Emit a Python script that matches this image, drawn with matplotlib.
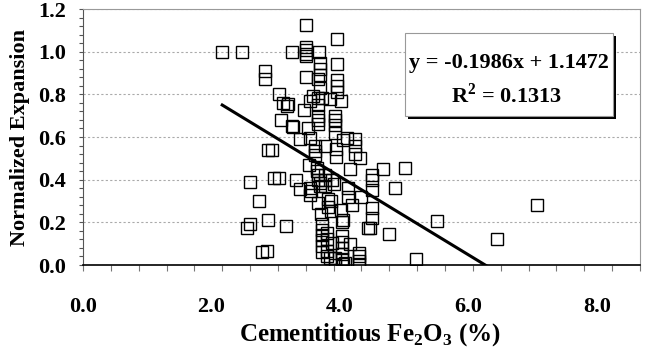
import matplotlib
matplotlib.use("Agg")
import matplotlib.pyplot as plt
from matplotlib.patches import Rectangle
from matplotlib.ticker import MultipleLocator

plt.rcParams['font.family'] = 'Liberation Serif'
plt.rcParams['font.weight'] = 'bold'
plt.rcParams['axes.labelweight'] = 'bold'
plt.rcParams['mathtext.fontset'] = 'custom'
plt.rcParams['mathtext.rm'] = 'Liberation Serif:bold'
plt.rcParams['mathtext.bf'] = 'Liberation Serif:bold'

# data (cementitious Fe2O3 %, normalized expansion)
fe2o3 = [2.00, 2.28, 2.62, 2.62, 2.82, 2.88, 2.93, 2.95, 2.84, 3.00, 3.02,
         2.66, 2.72, 2.40, 2.74, 2.82, 2.53, 2.35, 2.40, 2.66, 2.92, 2.57, 2.65,
         3.00, 3.20, 3.20, 3.20, 3.20, 3.20, 3.39, 3.65, 3.20, 3.38,
         3.40, 3.40, 3.40, 3.40, 3.65, 3.65, 3.65, 3.65,
         3.31, 3.26, 3.37, 3.44, 3.55, 3.71, 3.17, 3.38,
         3.38, 3.38, 3.38, 3.62, 3.62, 3.62, 3.62, 3.23, 3.12, 3.26, 3.79,
         3.33, 3.33, 3.33, 3.47, 3.64, 3.64, 3.74, 3.91, 3.91, 3.91, 3.98,
         3.25, 3.36, 3.36, 3.38, 3.38, 3.40, 3.40, 3.48, 3.48, 3.48, 3.57, 3.60,
         3.84, 4.31, 4.63, 4.15, 4.15, 3.06, 3.11, 3.26, 3.28, 3.26,
         3.81, 3.81, 3.86, 4.48, 4.15, 4.00, 3.37, 3.52, 3.52, 3.56, 3.56,
         3.71, 3.42, 4.15, 4.15, 4.10, 4.12, 3.73, 3.72,
         5.08, 4.40, 4.79, 5.95, 6.52,
         3.43, 3.43, 3.43, 3.43, 3.43, 3.43, 3.50, 3.50, 3.50, 3.50,
         3.57, 3.55, 3.62, 3.62, 3.72, 3.72, 3.72, 3.72, 3.72, 3.73,
         3.84, 3.97, 3.97, 3.97, 3.97, 3.76]
expansion = [1.00, 1.00, 0.91, 0.87, 0.80, 0.76, 0.745, 0.755, 0.68, 0.65, 0.645,
             0.54, 0.54, 0.39, 0.41, 0.41, 0.30, 0.175, 0.19, 0.21, 0.185, 0.06, 0.065,
             1.00, 1.125, 1.02, 1.01, 0.99, 0.98, 1.00, 1.06, 0.88, 0.87,
             0.945, 0.92, 0.89, 0.83, 0.94, 0.865, 0.84, 0.81,
             0.79, 0.77, 0.785, 0.785, 0.78, 0.77, 0.725, 0.75,
             0.70, 0.68, 0.66, 0.70, 0.68, 0.655, 0.62, 0.643, 0.59, 0.595, 0.596,
             0.56, 0.535, 0.515, 0.56, 0.545, 0.505, 0.587, 0.59, 0.56, 0.52, 0.50,
             0.47, 0.455, 0.44, 0.42, 0.40, 0.385, 0.37, 0.42, 0.40, 0.37, 0.40, 0.38,
             0.45, 0.45, 0.455, 0.42, 0.40, 0.40, 0.355, 0.36, 0.345, 0.33,
             0.36, 0.32, 0.28, 0.36, 0.35, 0.317, 0.29, 0.31, 0.27, 0.30, 0.255,
             0.26, 0.24, 0.265, 0.22, 0.175, 0.175, 0.21, 0.20,
             0.207, 0.147, 0.03, 0.12, 0.28,
             0.19, 0.165, 0.14, 0.115, 0.09, 0.06, 0.15, 0.12, 0.065, 0.04,
             0.105, 0.035, 0.035, 0.0, 0.135, 0.11, 0.08, 0.05, 0.03, 0.005,
             0.10, 0.058, 0.04, 0.02, 0.003, 0.01]

slope = -0.1986
intercept = 1.1472
r2 = 0.1313
x_labels = [0.0, 2.0, 4.0, 6.0, 8.0]

fig = plt.figure(figsize=(6.67, 3.47), dpi=100)
ax = fig.add_axes([0.1244, 0.2363, 0.8351, 0.7377])

ax.plot(fe2o3, expansion, linestyle='none', marker='s', markersize=8.5,
        markerfacecolor='none', markeredgecolor='black', markeredgewidth=1.0,
        zorder=3)

# trendline over the data range, clipped at the x axis
x0, x1 = min(fe2o3), max(fe2o3)
ax.plot([x0, x1], [slope * x0 + intercept, slope * x1 + intercept],
        color='black', linewidth=2.2, zorder=4)

ax.set_xlim(0, 8)
ax.set_ylim(0, 1.2)
ax.xaxis.set_major_locator(MultipleLocator(0.4))
ax.yaxis.set_major_locator(MultipleLocator(0.2))
ax.yaxis.set_minor_locator(MultipleLocator(0.04))
ax.set_xticklabels([])
ax.yaxis.set_major_formatter(matplotlib.ticker.FormatStrFormatter('%.1f'))
ax.tick_params(axis='y', which='both', direction='out', length=3, width=0.8,
               color='#555555', labelsize=16, pad=9)
ax.tick_params(axis='x', which='both', direction='out', length=4, width=0.8,
               color='#777777')

ax.yaxis.grid(True, color='#aaaaaa', linestyle=(0, (2, 2)), linewidth=0.8)
ax.set_axisbelow(True)
for side in ['top', 'right']:
    ax.spines[side].set_color('#999999')
    ax.spines[side].set_linewidth(0.8)
ax.spines['left'].set_color('#555555')
ax.spines['bottom'].set_color('black')
ax.spines['bottom'].set_linewidth(1.2)

# x tick labels sit a bit left of their ticks in the original
for v in x_labels:
    ax.text(v / 8 * 0.923, -0.164, '%.1f' % v, transform=ax.transAxes,
            ha='center', va='center', fontsize=16)

ax.text(0.515, -0.273, r'Cementitious Fe$_{2}$O$_{3}$ (%)', transform=ax.transAxes,
        ha='center', va='center', fontsize=18)
ax.text(-0.113, 0.5, 'Normalized Expansion', transform=ax.transAxes,
        rotation=90, ha='center', va='center', fontsize=16)

# equation box with drop shadow
bx, by, bw, bh = 0.578, 0.582, 0.373, 0.324
ax.add_patch(Rectangle((bx + 0.0054, by - 0.0117), bw, bh, transform=ax.transAxes,
                       facecolor='black', edgecolor='none', zorder=5, clip_on=False))
ax.add_patch(Rectangle((bx, by), bw, bh, transform=ax.transAxes,
                       facecolor='white', edgecolor='#999999', linewidth=0.8,
                       zorder=6, clip_on=False))
ax.text(bx + bw / 2, 0.789, 'y = %.4fx + %.4f' % (slope, intercept),
        transform=ax.transAxes, ha='center', va='center', fontsize=16, zorder=7)
ax.text(bx + bw / 2 - 0.005, 0.664, r'R$^{2}$ = %.4f' % r2,
        transform=ax.transAxes, ha='center', va='center', fontsize=16, zorder=7)

fig.savefig('out.png', dpi=100)
